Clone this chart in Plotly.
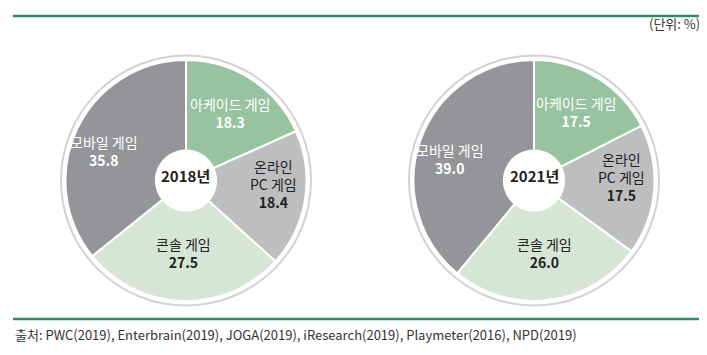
import math
import plotly.graph_objects as go

W, H = 707, 355
categories = ["아케이드 게임", "온라인<br>PC 게임", "콘솔 게임", "모바일 게임"]
values_2018 = [18.3, 18.4, 27.5, 35.8]
values_2021 = [17.5, 17.5, 26.0, 39.0]
years = ["2018년", "2021년"]
colors = ["#97c3a1", "#bdbec0", "#d6e6d6", "#939598"]
text_colors = ["#ffffff", "#222222", "#222222", "#ffffff"]
unit_text = "(단위: %)"
source_text = "출처: PWC(2019), Enterbrain(2019), JOGA(2019), iResearch(2019), Playmeter(2016), NPD(2019)"

# label placement style (radius in px, angular offset in degrees)
label_radius = [75, 88, 80, 85]
label_angle_offset = [3, -2, 0, -10]

FONT = "Noto Sans CJK KR"
R = 120.5
CY = 172.5
centers_x = [178, 526]

def px_x(x):
    return x / W

def px_y(y):
    return 1 - y / H

fig = go.Figure()
shapes = []
annotations = []
for cx, vals, yr in zip(centers_x, [values_2018, values_2021], years):
    fig.add_trace(go.Pie(
        labels=categories,
        values=vals,
        sort=False,
        direction="clockwise",
        rotation=0,
        hole=0.25,
        marker=dict(colors=colors, line=dict(color="#ffffff", width=2)),
        textinfo="none",
        hoverinfo="label+value",
        showlegend=False,
        domain=dict(x=[px_x(cx - R), px_x(cx + R)], y=[px_y(CY + R), px_y(CY - R)]),
    ))
    total = sum(vals)
    cum = 0.0
    for i, (lab, v) in enumerate(zip(categories, vals)):
        mid = (cum + v / 2) / total * 360 + label_angle_offset[i]
        cum += v
        a = math.radians(mid)
        lx = cx + label_radius[i] * math.sin(a)
        ly = CY - label_radius[i] * math.cos(a)
        annotations.append(dict(
            text=f"{lab}<br><b>{v:.1f}</b>",
            x=px_x(lx), y=px_y(ly), xref="paper", yref="paper", yshift=7,
            showarrow=False, xanchor="center", yanchor="middle", align="center",
            font=dict(family=FONT, size=14, color=text_colors[i]),
        ))
    rr = R + 4.5
    shapes.append(dict(type="circle", xref="paper", yref="paper",
                       x0=px_x(cx - rr), x1=px_x(cx + rr), y0=px_y(CY + rr), y1=px_y(CY - rr),
                       line=dict(color="#d2d2d4", width=2), layer="below"))
    annotations.append(dict(text=f"<b>{yr}</b>", x=px_x(cx), y=px_y(CY), xref="paper", yref="paper",
                            yshift=5, showarrow=False, font=dict(family=FONT, size=15, color="#222222"),
                            xanchor="center", yanchor="middle"))

shapes.append(dict(type="line", xref="paper", yref="paper", x0=px_x(5), x1=px_x(701),
                   y0=px_y(8), y1=px_y(8), line=dict(color="#2f8a5f", width=2.5)))
shapes.append(dict(type="line", xref="paper", yref="paper", x0=px_x(5), x1=px_x(701),
                   y0=px_y(311), y1=px_y(311), line=dict(color="#2f8a5f", width=2.5)))

annotations.append(dict(text=unit_text, x=px_x(694), y=px_y(22), xref="paper", yref="paper",
                        yshift=7, showarrow=False, xanchor="right", yanchor="middle",
                        font=dict(family=FONT, size=13, color="#333333")))
annotations.append(dict(text=source_text, x=px_x(5), y=px_y(333), xref="paper", yref="paper",
                        yshift=7, showarrow=False, xanchor="left", yanchor="middle",
                        font=dict(family=FONT, size=13, color="#333333")))

fig.update_layout(
    width=W, height=H,
    margin=dict(l=0, r=0, t=0, b=0),
    paper_bgcolor="#ffffff",
    plot_bgcolor="#ffffff",
    shapes=shapes,
    annotations=annotations,
)

fig.write_html("out.html")
